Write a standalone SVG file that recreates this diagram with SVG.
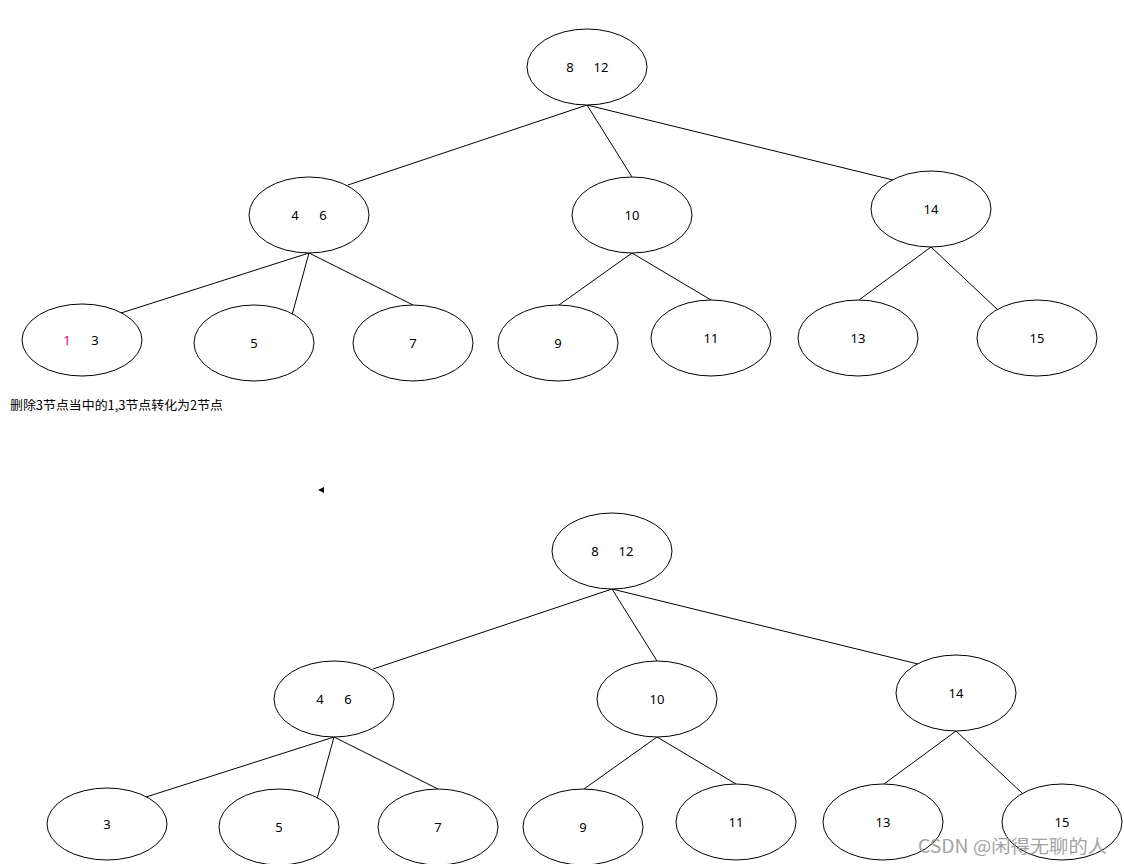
<svg xmlns="http://www.w3.org/2000/svg" width="1124" height="864" viewBox="0 0 1124 864">
<style>
.n{fill:#fff;stroke:#000;stroke-width:1}
.e{stroke:#000;stroke-width:1;fill:none}
text{font-family:"Segoe UI","Noto Sans","DejaVu Sans",sans-serif;font-size:13px;fill:#000;text-anchor:middle;dominant-baseline:central}
.cap{font-family:"Noto Sans CJK SC","Noto Sans",sans-serif;font-size:12.5px;text-anchor:start}
.wm{font-family:"Noto Sans CJK SC","Noto Sans",sans-serif;font-size:18px;fill:#9a9a9a;text-anchor:start;opacity:0.9}
</style>
<rect width="1124" height="864" fill="#fff"/>
<g id="connectors">
<path class="e" d="M587 105L348 185M587 105L632 177M587 105L893 180M309 253L121 313M309 253L292 315M309 253L413 305M632 253L559 305M632 253L711 300M931 247L859 300M931 247L998 310"/>
<path class="e" d="M612 589L373 669M612 589L657 661M612 589L918 664M334 737L146 797M334 737L317 799M334 737L438 789M657 737L584 789M657 737L736 784M956 731L884 784M956 731L1023 794"/>
</g>
<g id="t-root"><ellipse class="n" cx="587" cy="67" rx="60" ry="38"/><text x="570" y="67">8</text><text x="601" y="67">12</text></g>
<g id="t-46"><ellipse class="n" cx="309" cy="215" rx="60" ry="38"/><text x="295" y="215">4</text><text x="323" y="215">6</text></g>
<g id="t-10"><ellipse class="n" cx="632" cy="215" rx="60" ry="38"/><text x="632" y="215">10</text></g>
<g id="t-14"><ellipse class="n" cx="931" cy="209" rx="60" ry="38"/><text x="931" y="209">14</text></g>
<g id="t-13n"><ellipse class="n" cx="82" cy="340" rx="60" ry="36"/><text x="67" y="340" style="fill:#f0006c">1</text><text x="95" y="340">3</text></g>
<g id="t-5"><ellipse class="n" cx="254" cy="343" rx="60" ry="38"/><text x="254" y="343">5</text></g>
<g id="t-7"><ellipse class="n" cx="413" cy="343" rx="60" ry="38"/><text x="413" y="343">7</text></g>
<g id="t-9"><ellipse class="n" cx="558" cy="343" rx="60" ry="38"/><text x="558" y="343">9</text></g>
<g id="t-11"><ellipse class="n" cx="711" cy="338" rx="60" ry="38"/><text x="711" y="338">11</text></g>
<g id="t-13"><ellipse class="n" cx="858" cy="338" rx="60" ry="38"/><text x="858" y="338">13</text></g>
<g id="t-15"><ellipse class="n" cx="1037" cy="338" rx="60" ry="38"/><text x="1037" y="338">15</text></g>
<g id="caption"><text class="cap" x="10" y="404" textLength="213" lengthAdjust="spacingAndGlyphs">删除3节点当中的1,3节点转化为2节点</text></g>
<g id="marker"><polygon points="318,490 324,487 324,493" fill="#000"/></g>
<g id="b-root"><ellipse class="n" cx="612" cy="551" rx="60" ry="38"/><text x="595" y="551">8</text><text x="626" y="551">12</text></g>
<g id="b-46"><ellipse class="n" cx="334" cy="699" rx="60" ry="38"/><text x="320" y="699">4</text><text x="348" y="699">6</text></g>
<g id="b-10"><ellipse class="n" cx="657" cy="699" rx="60" ry="38"/><text x="657" y="699">10</text></g>
<g id="b-14"><ellipse class="n" cx="956" cy="693" rx="60" ry="38"/><text x="956" y="693">14</text></g>
<g id="b-3"><ellipse class="n" cx="107" cy="824" rx="60" ry="36"/><text x="107" y="824">3</text></g>
<g id="b-5"><ellipse class="n" cx="279" cy="827" rx="60" ry="38"/><text x="279" y="827">5</text></g>
<g id="b-7"><ellipse class="n" cx="438" cy="827" rx="60" ry="38"/><text x="438" y="827">7</text></g>
<g id="b-9"><ellipse class="n" cx="583" cy="827" rx="60" ry="38"/><text x="583" y="827">9</text></g>
<g id="b-11"><ellipse class="n" cx="736" cy="822" rx="60" ry="38"/><text x="736" y="822">11</text></g>
<g id="b-13"><ellipse class="n" cx="883" cy="822" rx="60" ry="38"/><text x="883" y="822">13</text></g>
<g id="b-15"><ellipse class="n" cx="1062" cy="822" rx="60" ry="38"/><text x="1062" y="822">15</text></g>
<text class="wm" x="918" y="845" textLength="189" lengthAdjust="spacingAndGlyphs">CSDN @闲得无聊的人</text>
</svg>
